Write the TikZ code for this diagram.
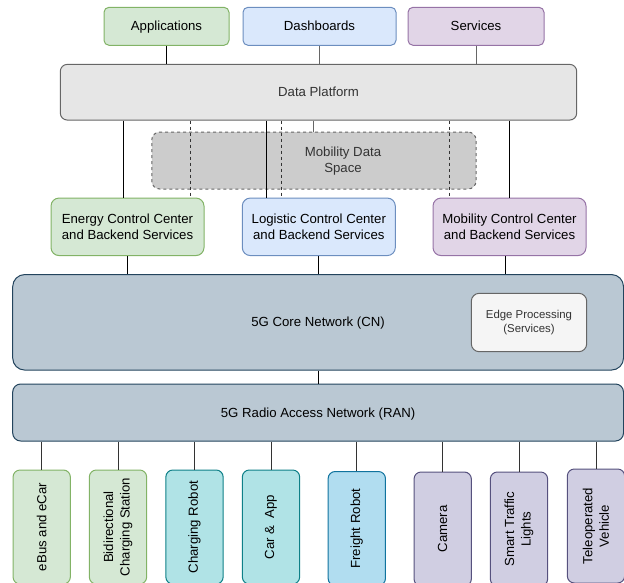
\documentclass[tikz,border=0pt]{standalone}
\usepackage{fontspec}
\setmainfont{Liberation Sans}
\usetikzlibrary{positioning}
\definecolor{grnfill}{HTML}{D5E8D4}\definecolor{grnline}{HTML}{82B366}
\definecolor{blufill}{HTML}{DAE8FC}\definecolor{bluline}{HTML}{6C8EBF}
\definecolor{purfill}{HTML}{E1D5E7}\definecolor{purline}{HTML}{9673A6}
\definecolor{gryfill}{HTML}{E6E6E6}\definecolor{gryline}{HTML}{666666}
\definecolor{mdsfill}{HTML}{CCCCCC}
\definecolor{netfill}{HTML}{BAC8D3}\definecolor{netline}{HTML}{23445D}
\definecolor{edgfill}{HTML}{F5F5F5}\definecolor{txtgray}{HTML}{333333}
\definecolor{tealfill}{HTML}{B0E3E6}\definecolor{tealline}{HTML}{0E8088}
\definecolor{frfill}{HTML}{B1DDF0}\definecolor{frline}{HTML}{10739E}
\definecolor{lavfill}{HTML}{D0CEE2}\definecolor{lavline}{HTML}{56517E}

\begin{document}
\begin{tikzpicture}[x=1pt,y=-1pt,line width=1pt,
  box/.style={draw,rounded corners=5pt,align=center,inner sep=0pt,
    font=\fontsize{13.2}{16.5}\selectfont},
  oneline/.style={text height=9.6pt,text depth=0.4pt},
  energybox/.style={box,fill=grnfill,draw=grnline},
  logibox/.style={box,fill=blufill,draw=bluline},
  mobbox/.style={box,fill=purfill,draw=purline},
  netbox/.style={box,oneline,fill=netfill,draw=netline},
  tealbox/.style={box,fill=tealfill,draw=tealline},
  freightbox/.style={box,fill=frfill,draw=frline},
  lavbox/.style={box,fill=lavfill,draw=lavline},
  topbox/.style={oneline,minimum height=38pt},
  ccbox/.style={minimum width=153pt,minimum height=57.5pt,rounded corners=8pt},
  devbox/.style={rotate=90,minimum width=114pt,minimum height=57.3pt,rounded corners=7pt},
  link/.style={draw=black},
  graylink/.style={draw=gryline},
  dashlink/.style={draw=txtgray,dash pattern=on 3pt off 3pt}]
\useasboundingbox (0,0) rectangle (624,582);
\clip (0,0) rectangle (624,582);

\node[energybox,topbox,minimum width=125pt] (app) at (166.5,26.3) {Applications};
\node[logibox,topbox,minimum width=153pt] (dash) at (319.5,26.3) {Dashboards};
\node[mobbox,topbox,minimum width=136pt] (serv) at (476,26.3) {Services};

\node[box,oneline,fill=gryfill,draw=gryline,text=txtgray,minimum width=516.4pt,
  minimum height=55.7pt,rounded corners=7pt] (dp) at (318.5,92.2) {Data Platform};
\node[box,fill=mdsfill,draw=gryline,dash pattern=on 3pt off 3pt,minimum width=324.3pt,
  minimum height=57pt,rounded corners=8pt] (mds) at (313.9,160.5) {};
\node[align=center,text=txtgray,font=\fontsize{13.2}{16.7}\selectfont]
  (mdstext) at (343,161) {Mobility Data\\Space};

\node[energybox,ccbox] (ecc) at (127.5,226.8) {Energy Control Center\\and Backend Services};
\node[logibox,ccbox] (lcc) at (318.8,226.8) {Logistic Control Center\\and Backend Services};
\node[mobbox,ccbox] (mcc) at (509.5,226.8) {Mobility Control Center\\and Backend Services};

\node[netbox,minimum width=610.8pt,minimum height=95.5pt,rounded corners=12pt]
  (cn) at (318.1,322.3) {5G Core Network (CN)};
\node[box,fill=edgfill,draw=gryline,text=txtgray,minimum width=115.4pt,minimum height=58.4pt,
  rounded corners=8pt,font=\fontsize{11.4}{14.3}\selectfont]
  (edge) at (529,322.5) {Edge Processing\\(Services)};
\node[netbox,minimum width=610.8pt,minimum height=57pt,rounded corners=8pt]
  (ran) at (318.1,412.5) {5G Radio Access Network (RAN)};

\node[energybox,devbox] (ebus) at (41.7,527) {eBus and eCar};
\node[energybox,devbox] (bidi) at (118,527) {Bidirectional\\Charging Station};
\node[tealbox,devbox] (crob) at (194.5,527) {Charging Robot};
\node[tealbox,devbox] (carapp) at (271,527) {Car \&\ \ App};
\node[freightbox,devbox] (frob) at (356.8,528.5) {Freight Robot};
\node[lavbox,devbox] (cam) at (442.7,529) {Camera};
\node[lavbox,devbox] (stl) at (519,529) {Smart Traffic\\Lights};
\node[lavbox,devbox] (tele) at (596,526) {Teleoperated\\Vehicle};

\draw[link] (app.south) -- (app.south |- dp.north);
\draw[graylink] (dash.south) -- (dash.south |- dp.north);
\draw[graylink] (serv.south) -- (serv.south |- dp.north);

\draw[link] (dp.south -| 123.3,0) -- (ecc.north -| 123.3,0);
\draw[link] (dp.south -| 266.7,0) -- (lcc.north -| 266.7,0);
\draw[link] (dp.south -| 509.7,0) -- (mcc.north -| 509.7,0);
\draw[graylink] (dp.south -| mds.north) -- (mds.north);
\draw[dashlink] (dp.south -| 190,0) -- (ecc.north -| 190,0);
\draw[dashlink] (dp.south -| 281,0) -- (lcc.north -| 281,0);
\draw[dashlink] (dp.south -| 449.3,0) -- (mcc.north -| 449.3,0);

\draw[link] (ecc.south) -- (ecc.south |- cn.north);
\draw[link] (lcc.south) -- (lcc.south |- cn.north);
\draw[link] (mcc.south -| 505,0) -- (cn.north -| 505,0);
\draw[link] (cn.south) -- (ran.north);

\foreach \dev in {ebus,bidi,crob,carapp,frob,cam,stl,tele}
  \draw[draw=txtgray] (ran.south -| \dev.east) -- (\dev.east);
\end{tikzpicture}
\end{document}
